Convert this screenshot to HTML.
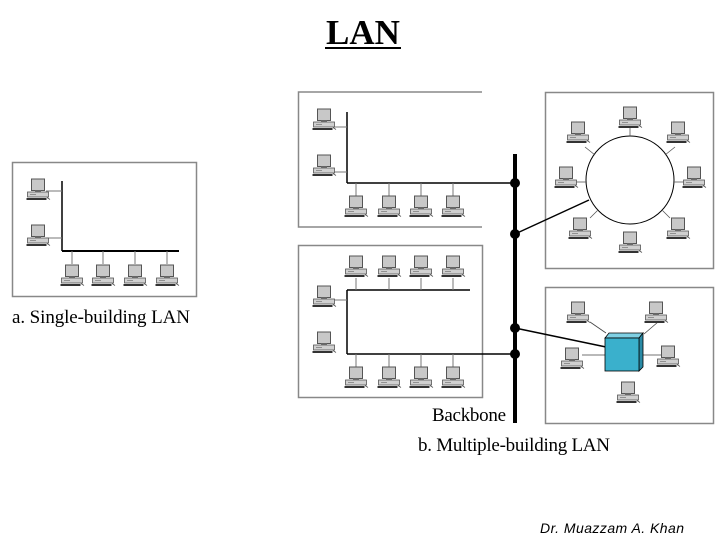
<!DOCTYPE html>
<html><head><meta charset="utf-8"><style>
body{margin:0;background:#fff;width:720px;height:540px;overflow:hidden}
</style></head><body>
<svg width="720" height="540" viewBox="0 0 720 540" xmlns="http://www.w3.org/2000/svg">
<defs>
<g id="pc">
<rect x="-6.5" y="0" width="13" height="11.5" fill="#c8c8c8" stroke="#555" stroke-width="1"/>
<rect x="-3" y="11.5" width="6" height="1.5" fill="#777"/>
<rect x="-10.5" y="13" width="21" height="5" fill="#d0d0d0" stroke="#555" stroke-width="0.8"/>
<line x1="-8" y1="15.5" x2="-2" y2="15.5" stroke="#666" stroke-width="0.6"/>
<rect x="-11.5" y="19" width="20" height="2" fill="#333"/>
<line x1="9" y1="18.5" x2="12" y2="20.5" stroke="#555" stroke-width="0.8"/>
</g>
</defs>
<text x="363" y="44" text-anchor="middle" font-family="Liberation Serif" font-weight="bold" font-size="35">LAN</text>
<line x1="325" y1="48" x2="401" y2="48" stroke="#000" stroke-width="2"/>

<!-- a -->
<rect x="12.5" y="162.5" width="184" height="134" fill="none" stroke="#888" stroke-width="1.5"/>
<g stroke="#000" stroke-width="1.5" fill="none">
<line x1="62" y1="181" x2="62" y2="251"/>
<line x1="62" y1="251" x2="179" y2="251" stroke-width="2"/>
</g>
<g stroke="#777" stroke-width="1">
<line x1="46" y1="191" x2="62" y2="191"/><line x1="46" y1="238" x2="62" y2="238"/>
<line x1="72" y1="251" x2="72" y2="264"/><line x1="103" y1="251" x2="103" y2="264"/>
<line x1="135" y1="251" x2="135" y2="264"/><line x1="167" y1="251" x2="167" y2="264"/>
</g>
<use href="#pc" x="38" y="179"/><use href="#pc" x="38" y="225"/>
<use href="#pc" x="72" y="265"/><use href="#pc" x="103" y="265"/><use href="#pc" x="135" y="265"/><use href="#pc" x="167" y="265"/>
<text x="12" y="323" font-family="Liberation Serif" font-size="19" textLength="178">a. Single-building LAN</text>

<g stroke="#888" stroke-width="1.5" fill="none">
<polyline points="482,92 298.5,92 298.5,227 482,227"/>
<rect x="298.5" y="245.5" width="184" height="152"/>
<rect x="545.5" y="92.5" width="168" height="176"/>
<rect x="545.5" y="287.5" width="168" height="136"/>
</g>
<g stroke="#000" stroke-width="1.5">
<line x1="347" y1="112" x2="347" y2="183"/><line x1="347" y1="183" x2="515" y2="183"/>
<line x1="347" y1="290" x2="347" y2="354"/><line x1="347" y1="290" x2="470" y2="290"/>
<line x1="347" y1="354" x2="515" y2="354"/>
<line x1="515" y1="234" x2="589" y2="200"/>
<line x1="515" y1="328" x2="606" y2="347"/>
</g>
<g stroke="#777" stroke-width="1">
<line x1="333" y1="127" x2="347" y2="127"/><line x1="333" y1="172" x2="347" y2="172"/>
<line x1="356" y1="183" x2="356" y2="196"/><line x1="389" y1="183" x2="389" y2="196"/><line x1="421" y1="183" x2="421" y2="196"/><line x1="453" y1="183" x2="453" y2="196"/>
<line x1="356" y1="278" x2="356" y2="290"/><line x1="389" y1="278" x2="389" y2="290"/><line x1="421" y1="278" x2="421" y2="290"/><line x1="453" y1="278" x2="453" y2="290"/>
<line x1="333" y1="300" x2="347" y2="300"/>
<line x1="356" y1="354" x2="356" y2="367"/><line x1="389" y1="354" x2="389" y2="367"/><line x1="421" y1="354" x2="421" y2="367"/><line x1="453" y1="354" x2="453" y2="367"/>
</g>
<use href="#pc" x="324" y="109"/><use href="#pc" x="324" y="155"/>
<use href="#pc" x="356" y="196"/><use href="#pc" x="389" y="196"/><use href="#pc" x="421" y="196"/><use href="#pc" x="453" y="196"/>
<use href="#pc" x="356" y="256"/><use href="#pc" x="389" y="256"/><use href="#pc" x="421" y="256"/><use href="#pc" x="453" y="256"/>
<use href="#pc" x="324" y="286"/><use href="#pc" x="324" y="332"/>
<use href="#pc" x="356" y="367"/><use href="#pc" x="389" y="367"/><use href="#pc" x="421" y="367"/><use href="#pc" x="453" y="367"/>

<circle cx="630" cy="180" r="44" fill="none" stroke="#000" stroke-width="1"/>
<g stroke="#555" stroke-width="0.8">
<line x1="630" y1="128" x2="630" y2="136"/><line x1="595" y1="155" x2="585" y2="147"/><line x1="665" y1="155" x2="675" y2="147"/>
<line x1="575" y1="182" x2="586" y2="182"/><line x1="674" y1="182" x2="684" y2="182"/>
<line x1="598" y1="210" x2="590" y2="218"/><line x1="662" y1="210" x2="670" y2="218"/>
</g>
<use href="#pc" x="630" y="107"/><use href="#pc" x="578" y="122"/><use href="#pc" x="678" y="122"/>
<use href="#pc" x="566" y="167"/><use href="#pc" x="694" y="167"/>
<use href="#pc" x="580" y="218"/><use href="#pc" x="678" y="218"/><use href="#pc" x="630" y="232"/>

<g stroke="#444" stroke-width="0.8">
<line x1="590" y1="322" x2="606" y2="333"/><line x1="644" y1="334" x2="658" y2="322"/>
<line x1="582" y1="355" x2="605" y2="355"/><line x1="643" y1="355" x2="665" y2="355"/>
</g>
<polygon points="605,338 609,333 643,333 639,338" fill="#7fd0e3" stroke="#000" stroke-width="0.8"/>
<polygon points="639,338 643,333 643,367 639,371" fill="#2a8aa5" stroke="#000" stroke-width="0.8"/>
<rect x="605" y="338" width="34" height="33" fill="#3ab0cc" stroke="#000" stroke-width="0.8"/>
<use href="#pc" x="578" y="302"/><use href="#pc" x="656" y="302"/>
<use href="#pc" x="572" y="348"/><use href="#pc" x="668" y="346"/><use href="#pc" x="628" y="382"/>

<line x1="515" y1="154" x2="515" y2="423" stroke="#000" stroke-width="4"/>
<circle cx="515" cy="183" r="5"/><circle cx="515" cy="234" r="5"/>
<circle cx="515" cy="328" r="5"/><circle cx="515" cy="354" r="5"/>
<text x="432" y="421" font-family="Liberation Serif" font-size="19" textLength="74">Backbone</text>
<text x="418" y="451" font-family="Liberation Serif" font-size="19" textLength="192">b. Multiple-building LAN</text>
<text x="540" y="533" font-family="Liberation Sans" font-style="italic" font-size="14" textLength="144">Dr. Muazzam A. Khan</text>
</svg>
</body></html>
